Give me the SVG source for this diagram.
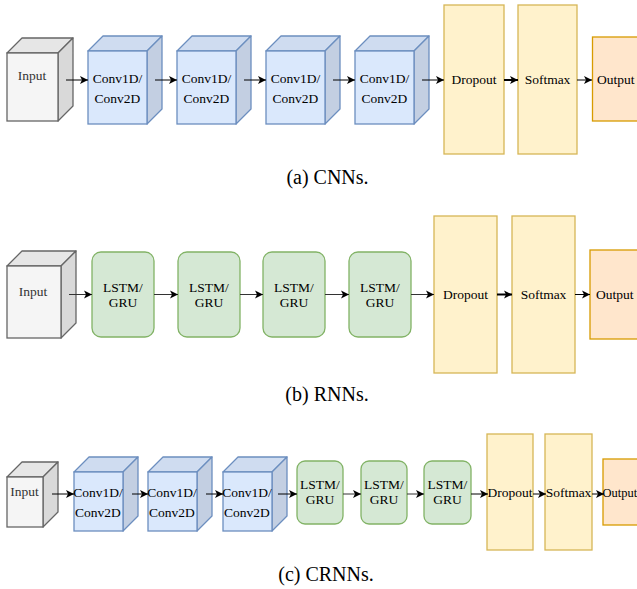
<svg xmlns="http://www.w3.org/2000/svg" width="637" height="589" viewBox="0 0 637 589">
  <style>
    text { font-family: "Liberation Serif", "Times New Roman", serif; font-size: 13.5px; fill: #000; text-anchor: middle; }
    .cap { font-size: 20px; }
    .in-front { fill: #f5f5f5; stroke: #666666; stroke-width: 1.3; }
    .in-top { fill: #e6e6e6; stroke: #666666; stroke-width: 1.3; stroke-linejoin: round; }
    .in-side { fill: #d9d9d9; stroke: #666666; stroke-width: 1.3; stroke-linejoin: round; }
    .in-label { fill: #333333; }
    .cv-front { fill: #dae8fc; stroke: #6c8ebf; stroke-width: 1.3; }
    .cv-top { fill: #cfdcf0; stroke: #6c8ebf; stroke-width: 1.3; stroke-linejoin: round; }
    .cv-side { fill: #c3cfe2; stroke: #6c8ebf; stroke-width: 1.3; stroke-linejoin: round; }
    .rnn { fill: #d5e8d4; stroke: #82b366; stroke-width: 1.3; }
    .drop { fill: #fff2cc; stroke: #d6b656; stroke-width: 1.3; }
    .out { fill: #ffe6cc; stroke: #d79b00; stroke-width: 1.3; }
    .edge { fill: none; stroke: #000; stroke-width: 1; marker-end: url(#arrow); }
    .edge.g { stroke: #333333; }
    .edge.thick { stroke-width: 2; }
  </style>
  <defs>
    <marker id="arrow" markerUnits="userSpaceOnUse" markerWidth="10" markerHeight="10" viewBox="0 0 10 10" refX="9" refY="5" orient="auto">
      <path d="M9,5 L1,1 L3,5 L1,9 Z" fill="#000"/>
    </marker>
  </defs>

  <rect width="637" height="589" fill="#ffffff"/>

  <!-- (a) CNN pipeline -->
  <g id="a-input">
    <polygon class="in-top" points="7,53 22,38 73,38 58,53"/>
    <polygon class="in-side" points="58,53 73,38 73,106 58,121"/>
    <rect class="in-front" x="7" y="53" width="51" height="68"/>
    <text class="in-label" x="32" y="80">Input</text>
  </g>
  <g id="a-conv1">
    <polygon class="cv-top" points="88,51 103,36 162,36 147,51"/>
    <polygon class="cv-side" points="147,51 162,36 162,109 147,124"/>
    <rect class="cv-front" x="88" y="51" width="59" height="73"/>
    <text x="117.5" y="82.5">Conv1D/</text><text x="117.5" y="103">Conv2D</text>
  </g>
  <g id="a-conv2">
    <polygon class="cv-top" points="177,51 192,36 251,36 236,51"/>
    <polygon class="cv-side" points="236,51 251,36 251,109 236,124"/>
    <rect class="cv-front" x="177" y="51" width="59" height="73"/>
    <text x="206.5" y="82.5">Conv1D/</text><text x="206.5" y="103">Conv2D</text>
  </g>
  <g id="a-conv3">
    <polygon class="cv-top" points="266,51 281,36 340,36 325,51"/>
    <polygon class="cv-side" points="325,51 340,36 340,109 325,124"/>
    <rect class="cv-front" x="266" y="51" width="59" height="73"/>
    <text x="295.5" y="82.5">Conv1D/</text><text x="295.5" y="103">Conv2D</text>
  </g>
  <g id="a-conv4">
    <polygon class="cv-top" points="355,51 370,36 429,36 414,51"/>
    <polygon class="cv-side" points="414,51 429,36 429,109 414,124"/>
    <rect class="cv-front" x="355" y="51" width="59" height="73"/>
    <text x="384.5" y="82.5">Conv1D/</text><text x="384.5" y="103">Conv2D</text>
  </g>
  <g id="a-dropout">
    <rect class="drop" x="444" y="5" width="60" height="149"/>
    <text x="474" y="84">Dropout</text>
  </g>
  <g id="a-softmax">
    <rect class="drop" x="518" y="5" width="59" height="149"/>
    <text x="547.5" y="84">Softmax</text>
  </g>
  <g id="a-output">
    <rect class="out" x="592.5" y="37" width="60" height="84"/>
    <text x="597" y="84" style="text-anchor:start">Output</text>
  </g>
  <g id="a-edges">
    <line class="edge" x1="66" y1="80" x2="88" y2="80"/>
    <line class="edge" x1="155" y1="80" x2="177" y2="80"/>
    <line class="edge" x1="244" y1="80" x2="266" y2="80"/>
    <line class="edge" x1="333" y1="80" x2="355" y2="80"/>
    <line class="edge" x1="422" y1="80" x2="444" y2="80"/>
    <line class="edge thick" x1="504" y1="80" x2="518" y2="80"/>
    <line class="edge" x1="577" y1="80" x2="592" y2="80"/>
  </g>
  <text class="cap" x="327.5" y="184">(a) CNNs.</text>

  <!-- (b) RNN pipeline -->
  <g id="b-input">
    <polygon class="in-top" points="7,266 22,251 76,251 61,266"/>
    <polygon class="in-side" points="61,266 76,251 76,323 61,338"/>
    <rect class="in-front" x="7" y="266" width="54" height="72"/>
    <text class="in-label" x="33" y="296">Input</text>
  </g>
  <g id="b-rnn1">
    <rect class="rnn" x="92" y="252" width="62" height="85" rx="9"/>
    <text x="123" y="292">LSTM/</text><text x="123" y="307">GRU</text>
  </g>
  <g id="b-rnn2">
    <rect class="rnn" x="178" y="252" width="62" height="85" rx="9"/>
    <text x="209" y="292">LSTM/</text><text x="209" y="307">GRU</text>
  </g>
  <g id="b-rnn3">
    <rect class="rnn" x="263" y="252" width="62" height="85" rx="9"/>
    <text x="294" y="292">LSTM/</text><text x="294" y="307">GRU</text>
  </g>
  <g id="b-rnn4">
    <rect class="rnn" x="349" y="252" width="62" height="85" rx="9"/>
    <text x="380" y="292">LSTM/</text><text x="380" y="307">GRU</text>
  </g>
  <g id="b-dropout">
    <rect class="drop" x="434" y="216" width="63" height="157"/>
    <text x="465.5" y="299">Dropout</text>
  </g>
  <g id="b-softmax">
    <rect class="drop" x="512" y="216" width="63" height="157"/>
    <text x="543.5" y="299">Softmax</text>
  </g>
  <g id="b-output">
    <rect class="out" x="590" y="250" width="60" height="89"/>
    <text x="596" y="299" style="text-anchor:start">Output</text>
  </g>
  <g id="b-edges">
    <line class="edge g" x1="69" y1="294.5" x2="92" y2="294.5"/>
    <line class="edge g" x1="154" y1="294.5" x2="178" y2="294.5"/>
    <line class="edge g" x1="240" y1="294.5" x2="263" y2="294.5"/>
    <line class="edge g" x1="325" y1="294.5" x2="349" y2="294.5"/>
    <line class="edge g" x1="411" y1="294.5" x2="434" y2="294.5"/>
    <line class="edge thick" x1="497" y1="294.5" x2="512" y2="294.5"/>
    <line class="edge" x1="575" y1="294.5" x2="590" y2="294.5"/>
  </g>
  <text class="cap" x="327" y="401">(b) RNNs.</text>

  <!-- (c) CRNN pipeline -->
  <g id="c-input">
    <polygon class="in-top" points="7,477 22,462 58,462 43,477"/>
    <polygon class="in-side" points="43,477 58,462 58,512 43,527"/>
    <rect class="in-front" x="7" y="477" width="36" height="50"/>
    <text class="in-label" x="24.5" y="496">Input</text>
  </g>
  <g id="c-conv1">
    <polygon class="cv-top" points="74,472 89,457 138,457 123,472"/>
    <polygon class="cv-side" points="123,472 138,457 138,516 123,531"/>
    <rect class="cv-front" x="74" y="472" width="49" height="59"/>
    <text x="98" y="497">Conv1D/</text><text x="98" y="517">Conv2D</text>
  </g>
  <g id="c-conv2">
    <polygon class="cv-top" points="148,472 163,457 212,457 197,472"/>
    <polygon class="cv-side" points="197,472 212,457 212,516 197,531"/>
    <rect class="cv-front" x="148" y="472" width="49" height="59"/>
    <text x="172" y="497">Conv1D/</text><text x="172" y="517">Conv2D</text>
  </g>
  <g id="c-conv3">
    <polygon class="cv-top" points="223,472 238,457 287,457 272,472"/>
    <polygon class="cv-side" points="272,472 287,457 287,516 272,531"/>
    <rect class="cv-front" x="223" y="472" width="49" height="59"/>
    <text x="247" y="497">Conv1D/</text><text x="247" y="517">Conv2D</text>
  </g>
  <g id="c-rnn1">
    <rect class="rnn" x="297" y="461" width="46" height="63" rx="8"/>
    <text x="320" y="489">LSTM/</text><text x="320" y="504">GRU</text>
  </g>
  <g id="c-rnn2">
    <rect class="rnn" x="361" y="461" width="46" height="63" rx="8"/>
    <text x="384" y="489">LSTM/</text><text x="384" y="504">GRU</text>
  </g>
  <g id="c-rnn3">
    <rect class="rnn" x="424" y="461" width="47" height="63" rx="8"/>
    <text x="447.5" y="489">LSTM/</text><text x="447.5" y="504">GRU</text>
  </g>
  <g id="c-dropout">
    <rect class="drop" x="487" y="434" width="46" height="116"/>
    <text x="510" y="497">Dropout</text>
  </g>
  <g id="c-softmax">
    <rect class="drop" x="545" y="434" width="47" height="116"/>
    <text x="568.5" y="497">Softmax</text>
  </g>
  <g id="c-output">
    <rect class="out" x="603" y="459" width="50" height="66"/>
    <text x="602.5" y="497" style="text-anchor:start; font-size:12.5px">Output</text>
  </g>
  <g id="c-edges">
    <line class="edge" x1="52" y1="494" x2="74" y2="494"/>
    <line class="edge" x1="132" y1="494" x2="148" y2="494"/>
    <line class="edge" x1="206" y1="494" x2="223" y2="494"/>
    <line class="edge" x1="278" y1="494" x2="297" y2="494"/>
    <line class="edge g" x1="343" y1="494" x2="361" y2="494"/>
    <line class="edge g" x1="407" y1="494" x2="424" y2="494"/>
    <line class="edge" x1="471" y1="494" x2="488" y2="494"/>
    <line class="edge" x1="533" y1="494" x2="546" y2="494"/>
    <line class="edge" x1="592" y1="494" x2="604" y2="494"/>
  </g>
  <text class="cap" x="326" y="581">(c) CRNNs.</text>
</svg>
